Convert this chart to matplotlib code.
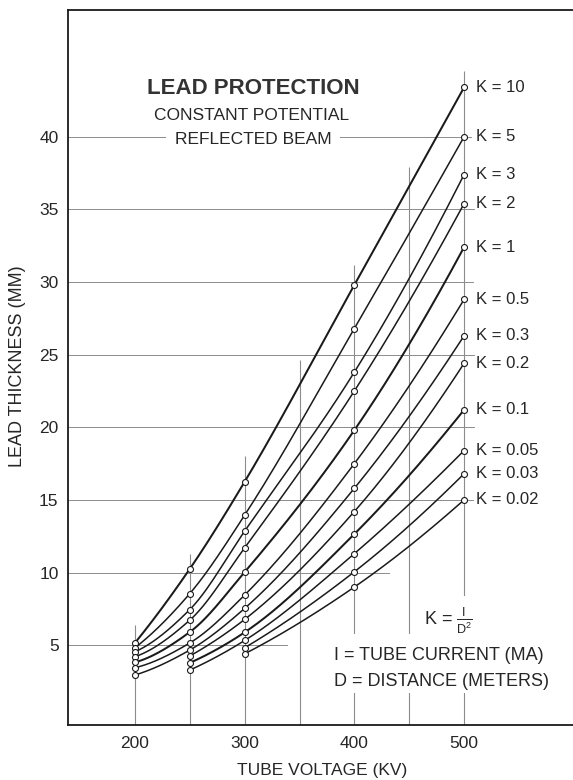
import numpy as np
import matplotlib
matplotlib.use("Agg")
import matplotlib.pyplot as plt
from matplotlib.patches import Rectangle

# ---------------- data ----------------
voltages = [200, 250, 300, 400, 500]
k_labels = ["K = 10", "K = 5", "K = 3", "K = 2", "K = 1", "K = 0.5",
            "K = 0.3", "K = 0.2", "K = 0.1", "K = 0.05", "K = 0.03", "K = 0.02"]
nan = np.nan
t_k10 = [5.15, 10.25, 16.25, 29.8, 43.4]
t_k5 = [4.82, 8.55, 13.95, 26.8, 40.0]
t_k3 = [4.54, 7.45, 12.85, 23.8, 37.4]
t_k2 = [4.2, 6.72, 11.7, 22.5, 35.4]
t_k1 = [3.81, 5.9, 10.03, 19.8, 32.4]
t_k05 = [3.44, 5.15, 8.45, 17.5, 28.8]
t_k03 = [2.94, 4.66, 7.53, 15.8, 26.3]
t_k02 = [nan, 4.25, 6.77, 14.2, 24.4]
t_k01 = [nan, 3.78, 5.88, 12.65, 21.2]
t_k005 = [nan, 3.28, 5.32, 11.3, 18.4]
t_k003 = [nan, nan, 4.82, 10.05, 16.8]
t_k002 = [nan, nan, 4.4, 9.0, 15.0]
curves = [t_k10, t_k5, t_k3, t_k2, t_k1, t_k05, t_k03, t_k02, t_k01, t_k005, t_k003, t_k002]
heavy = ["K = 10", "K = 1", "K = 0.1"]

y_ticks = [5, 10, 15, 20, 25, 30, 35, 40]
x_ticks = [200, 300, 400, 500]
hgrid_y = [40, 35, 30, 25, 20, 15, 10, 5]
hgrid_end = [506, 509, 508, 509, 509, 508, 432, 339]
vgrid_x = [200, 250, 300, 350, 400, 450, 500]
vgrid_top = [6.4, 11.3, 18.0, 24.6, 31.2, 37.9, 44.5]

# ---------------- helpers ----------------
def pchip(x, y, xs):
    x = np.asarray(x, float); y = np.asarray(y, float)
    n = len(x)
    h = np.diff(x); d = np.diff(y) / h
    m = np.zeros(n)
    if n == 2:
        m[:] = d[0]
    else:
        for k in range(1, n - 1):
            if d[k - 1] * d[k] <= 0:
                m[k] = 0
            else:
                w1 = 2 * h[k] + h[k - 1]; w2 = h[k] + 2 * h[k - 1]
                m[k] = (w1 + w2) / (w1 / d[k - 1] + w2 / d[k])
        def end(h0, h1, d0, d1):
            mm = ((2 * h0 + h1) * d0 - h0 * d1) / (h0 + h1)
            if np.sign(mm) != np.sign(d0):
                mm = 0
            elif np.sign(d0) != np.sign(d1) and abs(mm) > abs(3 * d0):
                mm = 3 * d0
            return mm
        m[0] = end(h[0], h[1], d[0], d[1])
        m[-1] = end(h[-1], h[-2], d[-1], d[-2])
    out = np.empty_like(xs, dtype=float)
    idx = np.clip(np.searchsorted(x, xs) - 1, 0, n - 2)
    for i, xv in enumerate(xs):
        k = idx[i]
        t = (xv - x[k]) / h[k]
        h00 = 2 * t**3 - 3 * t**2 + 1
        h10 = t**3 - 2 * t**2 + t
        h01 = -2 * t**3 + 3 * t**2
        h11 = t**3 - t**2
        out[i] = h00 * y[k] + h10 * h[k] * m[k] + h01 * y[k + 1] + h11 * h[k] * m[k + 1]
    return out

FONT = ["Liberation Sans", "DejaVu Sans"]
plt.rcParams["font.family"] = FONT
plt.rcParams["mathtext.fontset"] = "custom"
plt.rcParams["mathtext.rm"] = "Liberation Sans"
TXT = "#262626"

W, H = 573, 780
fig = plt.figure(figsize=(W / 100, H / 100), dpi=100)
fig.patch.set_facecolor("white")
ax_l, ax_r, ax_t, ax_b = 67.6, 573.0, 10.0, 725.0
ax = fig.add_axes([ax_l / W, 1 - ax_b / H, (ax_r - ax_l) / W, (ax_b - ax_t) / H])
ax.set_xlim(138.6, 599.3)
ax.set_ylim(-0.5, 48.73)

for s in ["left", "bottom", "top"]:
    ax.spines[s].set_linewidth(1.3)
    ax.spines[s].set_color("#1a1a1a")
ax.spines["right"].set_visible(False)

ax.set_xticks(x_ticks)
ax.set_xticklabels([str(v) for v in x_ticks])
ax.set_yticks(y_ticks)
ax.set_yticklabels([str(v) for v in y_ticks])
ax.tick_params(axis="both", length=0, colors=TXT, labelsize=12.5)
ax.tick_params(axis="y", pad=6.5)
ax.tick_params(axis="x", pad=8.0)

GRID = "#8c8c8c"
xmin = ax.get_xlim()[0]
for yv, xe in zip(hgrid_y, hgrid_end):
    ax.plot([xmin, xe], [yv, yv], color=GRID, lw=0.7, zorder=1)
ax.vlines(vgrid_x, -0.5, vgrid_top, color=GRID, lw=0.8, zorder=1)

# masks behind legend text
ax.add_patch(Rectangle((375, 1.7), 185, 4.1, facecolor="white", edgecolor="none", zorder=1.5))
ax.add_patch(Rectangle((458, 5.7), 72, 2.7, facecolor="white", edgecolor="none", zorder=1.5))

v = np.asarray(voltages, float)
for lab, t in zip(k_labels, curves):
    t = np.asarray(t, float)
    ok = ~np.isnan(t)
    xs = np.linspace(v[ok][0], v[ok][-1], 300)
    ys = pchip(v[ok], t[ok], xs)
    lw = 1.45 if lab in heavy else 1.1
    ax.plot(xs, ys, color="#1a1a1a", lw=lw, zorder=3, solid_capstyle="round")
    ax.plot(v[ok], t[ok], "o", ms=4.3, mfc="white", mec="#1a1a1a", mew=0.8, zorder=4)
    ax.text(511, t[ok][-1], lab, ha="left", va="center", fontsize=12, color=TXT, zorder=5)

def ftext(px, py, s, **kw):
    return fig.text(px / W, 1 - py / H, s, **kw)

ftext(253, 88, "LEAD PROTECTION", ha="center", va="center", fontsize=16,
      fontweight="bold", color="#333333")
ftext(252, 116, "CONSTANT POTENTIAL", ha="center", va="center", fontsize=12.5, color=TXT)
ftext(253, 139, "REFLECTED BEAM", ha="center", va="center", fontsize=12.5, color=TXT,
      bbox=dict(facecolor="white", edgecolor="none", pad=6))

ftext(424, 621, r"K = $\frac{\mathrm{I}}{\mathrm{D^2}}$", ha="left", va="center",
      fontsize=13, color=TXT)
ftext(334, 656, "I = TUBE CURRENT (MA)", ha="left", va="center", fontsize=13, color=TXT)
ftext(334, 682, "D = DISTANCE (METERS)", ha="left", va="center", fontsize=13, color=TXT)

ftext(17.5, 366, "LEAD THICKNESS (MM)", rotation=90, ha="center", va="center",
      fontsize=13, color=TXT)
ftext(322.5, 770, "TUBE VOLTAGE (KV)", ha="center", va="center", fontsize=12.5, color=TXT)

fig.savefig("out.png", dpi=100, facecolor="white")
